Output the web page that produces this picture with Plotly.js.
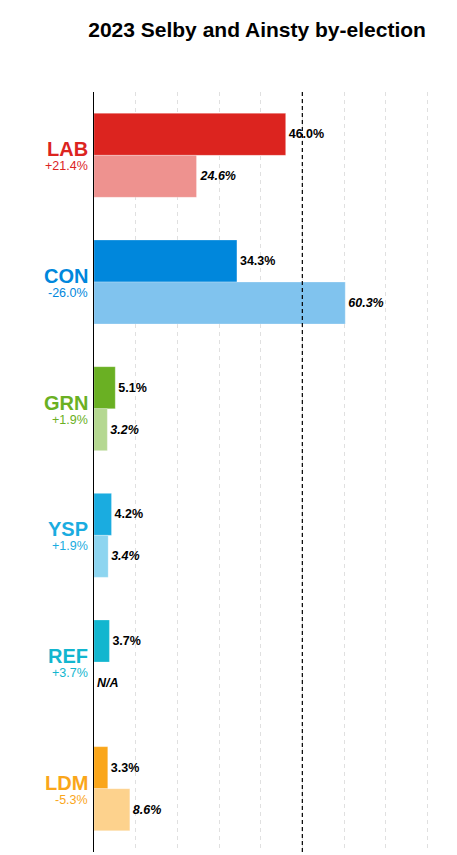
<!DOCTYPE html>
<html>
<head>
<meta charset="utf-8">
<script src="https://cdn.plot.ly/plotly-3.0.1.min.js"></script>
<style>html,body{margin:0;padding:0;background:#fff;}#chart{width:457px;height:855px;}</style>
</head>
<body>
<div id="chart"></div>
<script>
const parties = ["LAB", "CON", "GRN", "YSP", "REF", "LDM"];
const changes = ["+21.4%", "-26.0%", "+1.9%", "+1.9%", "+3.7%", "-5.3%"];
const votes2023 = [46.0, 34.3, 5.1, 4.2, 3.7, 3.3];
const votes2019 = [24.6, 60.3, 3.2, 3.4, null, 8.6];
const darkColors = ["#DC241F", "#0087DC", "#6AB023", "#1AACE0", "#12B6CF", "#FAA61A"];
const lightColors = ["#EE928F", "#80C3EE", "#B5D891", "#8DD5F0", "#89DBE7", "#FDD28D"];

const fmt = v => v === null ? "N/A" : v.toFixed(1) + "%";

const traces = [
  {
    type: "bar", orientation: "h",
    y: parties, x: votes2023,
    marker: {color: darkColors, line: {color: "rgba(255,255,255,0.25)", width: 1}},
    text: votes2023.map(fmt), textposition: "outside", cliponaxis: false,
    textfont: {family: "Liberation Sans, Arial, sans-serif", size: 12.5, color: "#000", weight: "bold"},
    hoverinfo: "skip", showlegend: false
  },
  {
    type: "bar", orientation: "h",
    y: parties, x: votes2019.map(v => v === null ? 0 : v),
    marker: {color: lightColors, line: {color: "rgba(255,255,255,0.25)", width: 1}},
    text: votes2019.map(fmt), textposition: "outside", cliponaxis: false,
    textfont: {family: "Liberation Sans, Arial, sans-serif", size: 12.5, color: "#000", weight: "bold", style: "italic"},
    hoverinfo: "skip", showlegend: false
  }
];

const annotations = [];
parties.forEach((p, i) => {
  annotations.push({
    xref: "paper", yref: "y", x: 0, y: p, xanchor: "right", yanchor: "middle",
    xshift: -4, yshift: 6, showarrow: false, text: p,
    font: {family: "Liberation Sans, Arial, sans-serif", size: 20, color: darkColors[i], weight: "bold"}
  });
  annotations.push({
    xref: "paper", yref: "y", x: 0, y: p, xanchor: "right", yanchor: "middle",
    xshift: -4, yshift: -11, showarrow: false, text: changes[i],
    font: {family: "Liberation Sans, Arial, sans-serif", size: 12.5, color: darkColors[i]}
  });
});

const layout = {
  width: 457, height: 855,
  margin: {l: 94, r: 13, t: 92, b: 3},
  paper_bgcolor: "#fff", plot_bgcolor: "#fff",
  title: {
    text: "<b>2023 Selby and Ainsty by-election</b>",
    x: 0.5625, xref: "container", xanchor: "center",
    y: 0.965, yref: "container", yanchor: "middle",
    font: {family: "Liberation Sans, Arial, sans-serif", size: 21, color: "#000"}
  },
  barmode: "group", bargap: 0.337, bargroupgap: 0,
  xaxis: {
    range: [0, 84], showticklabels: false, ticks: "",
    showgrid: true, gridcolor: "#e0e0e0", griddash: "4px,4px", gridwidth: 1,
    dtick: 10, tick0: 0, zeroline: false, showline: false, fixedrange: true
  },
  yaxis: {
    autorange: "reversed", showticklabels: false, ticks: "",
    showgrid: false, zeroline: false, showline: true, linecolor: "#000", linewidth: 1.5,
    fixedrange: true
  },
  shapes: [{
    type: "line", xref: "x", yref: "paper", x0: 50, x1: 50, y0: 0, y1: 1,
    line: {color: "#000", width: 1.2, dash: "4px,3px"}, layer: "above"
  }],
  annotations: annotations,
  font: {family: "Liberation Sans, Arial, sans-serif"}
};

Plotly.newPlot("chart", traces, layout, {displayModeBar: false, staticPlot: true});
</script>
</body>
</html>
